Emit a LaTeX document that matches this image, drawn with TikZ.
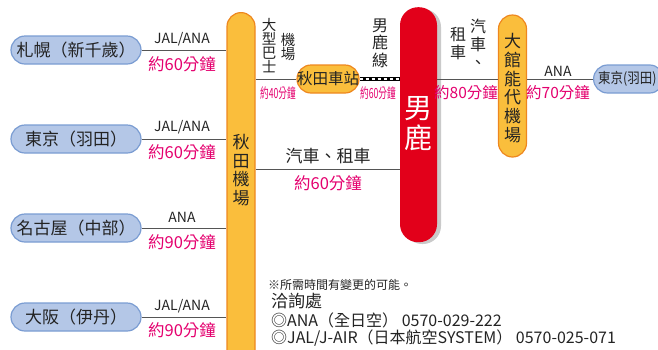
\documentclass[tikz,border=0pt]{standalone}
\usepackage{fontspec}
\setmainfont{Noto Sans CJK TC}
\definecolor{cityblue}{RGB}{180,199,231}
\definecolor{cityedge}{RGB}{122,156,210}
\definecolor{apfill}{RGB}{250,190,60}
\definecolor{apedge}{RGB}{238,135,30}
\definecolor{ogared}{RGB}{226,0,26}
\definecolor{timepink}{RGB}{228,0,110}
\definecolor{linegray}{RGB}{85,85,85}
\definecolor{textgray}{RGB}{35,35,35}

\begin{document}
\begin{tikzpicture}[x=1pt, y=-1pt,
    citypill/.style={draw=cityedge, fill=cityblue, line width=1.2pt, rounded corners=14pt,
        minimum width=130pt, minimum height=28pt, inner sep=0pt, text=textgray,
        font=\fontsize{17}{18}\selectfont},
    appill/.style={draw=apedge, fill=apfill, line width=1.2pt, rounded corners=14pt,
        minimum width=28pt, inner sep=0pt},
    vtext/.style={align=center, inner sep=0pt, text=textgray},
    airline/.style={inner sep=0pt, text=textgray, font=\fontsize{14}{14}\selectfont},
    timelbl/.style={inner sep=0pt, text=timepink, font=\fontsize{16.5}{17}\selectfont},
    smalltime/.style={inner sep=0pt, text=timepink, font=\fontsize{14}{14}\selectfont, xscale=0.62},
    route/.style={draw=linegray, line width=1pt},
    note/.style={inner sep=0pt, anchor=west, text=textgray}
]
\useasboundingbox (0,0) rectangle (658,349);
\begin{scope}
\clip (0,0) rectangle (658,349);

%nodes
\node[citypill] (sapporo) at (76, 50) {札幌（新千歲）};
\node[citypill] (tokyo) at (76, 139) {東京（羽田）};
\node[citypill] (nagoya) at (76, 228) {名古屋（中部）};
\node[citypill] (osaka) at (76, 317) {大阪（伊丹）};

\node[appill, minimum height=370pt, anchor=north] (akitaap) at (241, 12) {};
\node[vtext, font=\fontsize{17}{18.7}\selectfont] (akitaaptxt) at (241, 170) {秋\\田\\機\\場};

\node[appill, minimum width=60pt, minimum height=28pt, text=textgray,
    font=\fontsize{15.5}{16}\selectfont] (akitast) at (328, 79) {秋田車站};

\fill[black!35, opacity=0.6, rounded corners=18pt] (404, 9) rectangle (441, 244);
\node[fill=ogared, rounded corners=18pt, minimum width=37pt, minimum height=235pt,
    inner sep=0pt, anchor=north] (oga) at (418.5, 7) {};
\node[vtext, text=white, font=\fontsize{28}{30}\selectfont] (ogatxt) at (418.5, 124) {男\\鹿};

\node[appill, minimum height=142pt] (odate) at (512.5, 86) {};
\node[vtext, font=\fontsize{17}{18.7}\selectfont] (odatetxt) at (512.5, 88) {大\\館\\能\\代\\機\\場};

\node[citypill, minimum width=70pt, anchor=west] (tokyor) at (593, 79) {};
\node[inner sep=0pt, anchor=west, text=textgray, xscale=0.86,
    font=\fontsize{14.5}{15}\selectfont] (tokyortxt) at (598, 79) {東京(羽田)};

\coordinate (carrow) at (0, 169);

%edges
\draw[route] (sapporo.east) -- (sapporo.east -| akitaap.west);
\draw[route] (tokyo.east) -- (tokyo.east -| akitaap.west);
\draw[route] (nagoya.east) -- (nagoya.east -| akitaap.west);
\draw[route] (osaka.east) -- (osaka.east -| akitaap.west);
\draw[route] (akitaap.east |- akitast.west) -- (akitast.west);
\draw[black, line width=3.6pt] (akitast.east) -- (akitast.east -| oga.west);
\draw[white, line width=1.4pt, dash pattern=on 3pt off 3pt] (akitast.east) -- (akitast.east -| oga.west);
\draw[route] (akitaap.east |- carrow) -- (oga.west |- carrow);
\draw[route] (oga.east |- akitast.east) -- (odate.west |- akitast.east);
\draw[route] (odate.east |- tokyor.west) -- (tokyor.west);

%labels
\node[airline] (l1a) at (182, 39) {JAL/ANA};
\node[timelbl] (l1b) at (182, 64) {約60分鐘};
\node[airline] (l2a) at (182, 127) {JAL/ANA};
\node[timelbl] (l2b) at (182, 152) {約60分鐘};
\node[airline] (l3a) at (182, 217) {ANA};
\node[timelbl] (l3b) at (182, 242) {約90分鐘};
\node[airline] (l4a) at (182, 306) {JAL/ANA};
\node[timelbl] (l4b) at (182, 330) {約90分鐘};

\node[vtext, font=\fontsize{14.5}{14}\selectfont] (busa) at (269, 46) {大\\型\\巴\\士};
\node[vtext, font=\fontsize{14.5}{14}\selectfont] (busb) at (288, 47) {機\\場};
\node[smalltime] (bust) at (278, 93) {約40分鐘};

\node[vtext, font=\fontsize{16}{17.5}\selectfont] (rail) at (380, 43) {男\\鹿\\線};
\node[smalltime] (railt) at (378, 93) {約60分鐘};

\node[vtext, font=\fontsize{16}{18}\selectfont] (cara) at (478, 44) {汽\\車\\、};
\node[vtext, font=\fontsize{16}{18}\selectfont] (carb) at (458, 44) {租\\車};
\node[timelbl, font=\fontsize{15.5}{16}\selectfont] (cart) at (466, 93) {約80分鐘};

\node[airline] (l5a) at (558, 71) {ANA};
\node[timelbl, font=\fontsize{15.5}{16}\selectfont] (l5b) at (558, 93) {約70分鐘};

\node[inner sep=0pt, text=textgray, font=\fontsize{17}{17}\selectfont] (carc) at (328, 156) {汽車、租車};
\node[timelbl] (carct) at (328, 183) {約60分鐘};

%notes
\node[note, font=\fontsize{12}{12}\selectfont] (n1) at (268, 285) {※所需時間有變更的可能。};
\node[note, font=\fontsize{17}{17}\selectfont] (n2) at (271, 301) {洽詢處};
\node[note, font=\fontsize{16}{16}\selectfont] (n3) at (271, 320) {◎ANA（全日空） 0570-029-222};
\node[note, font=\fontsize{16}{16}\selectfont] (n4) at (271, 338) {◎JAL/J-AIR（日本航空SYSTEM） 0570-025-071};
\end{scope}
\end{tikzpicture}
\end{document}
